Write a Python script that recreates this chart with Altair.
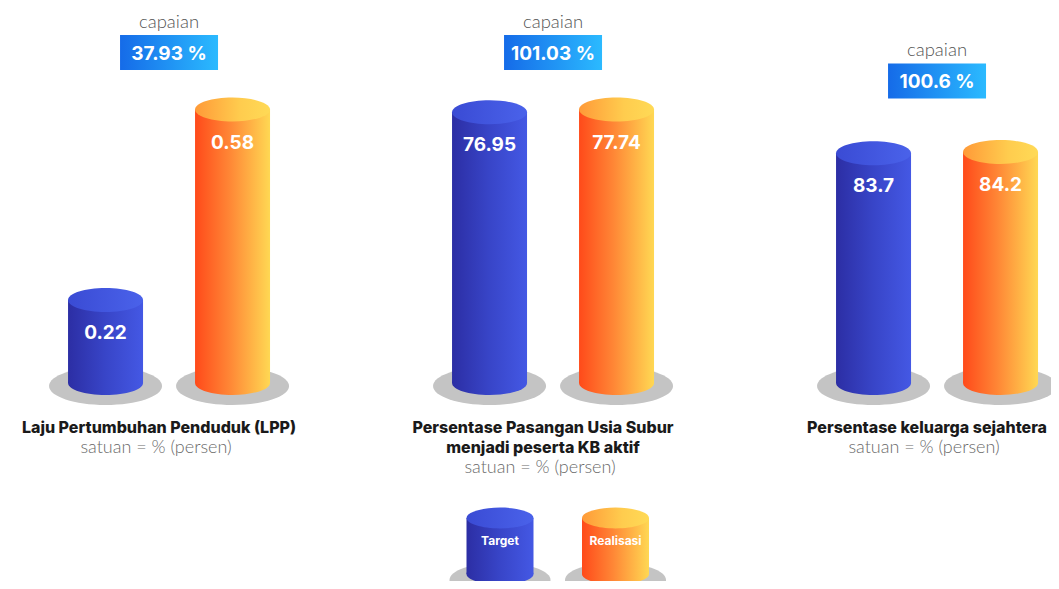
import altair as alt
import pandas as pd

# ---------------- data ----------------
series_names = ["Target", "Realisasi"]
indicator_titles = [
    "Laju Pertumbuhan Penduduk (LPP)",
    "Persentase Pasangan Usia Subur\nmenjadi peserta KB aktif",
    "Persentase keluarga sejahtera",
]
target_values = [0.22, 76.95, 83.7]
realisasi_values = [0.58, 77.74, 84.2]
target_labels = ["0.22", "76.95", "83.7"]
realisasi_labels = ["0.58", "77.74", "84.2"]
capaian_labels = ["37.93 %", "101.03 %", "100.6 %"]
capaian_word = "capaian"
unit_label = "satuan = % (persen)"

# ---------------- layout / style ----------------
PANEL_W, PANEL_H, GAP = 275, 573, 109
X_DOMAIN = [-0.768, -0.768 + PANEL_W / 127.0]
Y_BASE_PX = 375
Y_DOMAINS = [(0.063, 0.58), (0, 77.74), (0, 84.2)]
Y_TOP_PX = [101.5, 101.5, 144]
BOX_Y = [44.5, 44.5, 73]

FONT_BOLD = "Inter"
FONT_LIGHT = "Lato"


def ellipse(r):
    k = 0.5523
    return (f"M -1 0 C -1 {-k*r:.4f} {-k} {-r} 0 {-r} "
            f"C {k} {-r} 1 {-k*r:.4f} 1 0 "
            f"C 1 {k*r:.4f} {k} {r} 0 {r} "
            f"C {-k} {r} -1 {k*r:.4f} -1 0 Z")


RECT_SHAPE = "M -1 -0.357 L 1 -0.357 L 1 0.357 L -1 0.357 Z"


def lin(stops):
    return alt.Gradient(gradient="linear", x1=0, y1=0, x2=1, y2=0,
                        stops=[alt.GradientStop(color=c, offset=o) for o, c in stops])


BODY = {
    "Target": lin([(0, "#2c2ea4"), (0.5, "#3845c8"), (1, "#4458e4")]),
    "Realisasi": lin([(0, "#ff4a1a"), (0.45, "#ff8535"), (1, "#ffd853")]),
}
TOP = {
    "Target": lin([(0, "#3a4bd4"), (1, "#4a62ea")]),
    "Realisasi": lin([(0, "#ff9a38"), (0.6, "#ffcc4e"), (1, "#ffda56")]),
}
BOX = lin([(0, "#156be8"), (1, "#2bbaff")])
SHADOW = "#c4c4c4"


def panel(i):
    d0, d1 = Y_DOMAINS[i]
    clip = i == 2
    ysc = alt.Scale(domain=[d0, d1], range=[Y_BASE_PX, Y_TOP_PX[i]], nice=False, zero=False)
    xsc = alt.Scale(domain=X_DOMAIN, nice=False, zero=False, padding=0)
    xenc = alt.X("slot:Q", scale=xsc, axis=None)
    layers = []
    vals = [target_values, realisasi_values]
    labs = [target_labels, realisasi_labels]
    for s, name in enumerate(series_names):
        df = pd.DataFrame({"series": [name], "slot": [s],
                           "value": [vals[s][i]], "label": [labs[s][i]]})
        base = alt.Chart(df)
        ybase = alt.YDatum(d0, type="quantitative", scale=ysc, axis=None)
        yval = alt.Y("value:Q", scale=ysc, axis=None)
        layers.append(base.mark_point(shape=ellipse(0.336), size=113 ** 2, filled=True,
                                      fill=SHADOW, opacity=1, strokeWidth=0, yOffset=3,
                                      clip=clip)
                      .encode(x=xenc, y=ybase))
        layers.append(base.mark_point(shape=ellipse(0.32), size=75 ** 2, filled=True,
                                      fill=BODY[name], opacity=1, strokeWidth=0)
                      .encode(x=xenc, y=ybase))
        layers.append(base.mark_bar(size=75, fill=BODY[name], strokeWidth=0)
                      .encode(x=xenc, y=yval, y2=alt.Y2Datum(d0)))
        layers.append(base.mark_point(shape=ellipse(0.32), size=75 ** 2, filled=True,
                                      fill=TOP[name], opacity=1, strokeWidth=0)
                      .encode(x=xenc, y=yval))
        layers.append(base.mark_text(font=FONT_BOLD, fontSize=19, fontWeight="bold",
                                     color="white", dy=33, baseline="middle")
                      .encode(x=xenc, y=yval, text="label:N"))

    ann = alt.Chart(pd.DataFrame({"capaian": [capaian_labels[i]],
                                  "word": [capaian_word],
                                  "title": [indicator_titles[i]],
                                  "unit": [unit_label]}))
    xmid = alt.XDatum(0.5, type="quantitative", scale=xsc, axis=None)
    layers.append(ann.mark_point(shape=RECT_SHAPE, size=98 ** 2, filled=True, fill=BOX,
                                 opacity=1, strokeWidth=0)
                  .encode(x=xmid, y=alt.value(BOX_Y[i])))
    layers.append(ann.mark_text(font=FONT_BOLD, fontSize=19, fontWeight="bold",
                                color="white", baseline="middle", dy=1)
                  .encode(x=xmid, y=alt.value(BOX_Y[i]), text="capaian:N"))
    layers.append(ann.mark_text(font=FONT_LIGHT, fontSize=18.5, fontWeight=300,
                                color="#555555", baseline="middle")
                  .encode(x=xmid, y=alt.value(BOX_Y[i] - 31), text="word:N"))
    nlines = indicator_titles[i].count("\n") + 1
    layers.append(ann.mark_text(font=FONT_BOLD, fontSize=16, fontWeight=800,
                                color="#1a1a1a", baseline="middle", lineBreak="\n",
                                lineHeight=20, dx=-10)
                  .encode(x=xmid, y=alt.value(420), text="title:N"))
    layers.append(ann.mark_text(font=FONT_LIGHT, fontSize=18, fontWeight=300,
                                color="#6a6a6a", baseline="middle", dx=-13)
                  .encode(x=xmid, y=alt.value(420 + 20 * nlines), text="unit:N"))

    if i == 1:
        legend_cx = [108, 223.5]
        for s, name in enumerate(series_names):
            cx = legend_cx[s]
            lg = alt.Chart(pd.DataFrame({"series": [name]}))
            layers.append(lg.mark_point(shape=ellipse(0.34), size=101 ** 2, filled=True,
                                        fill=SHADOW, opacity=1, strokeWidth=0, clip=True)
                          .encode(x=alt.value(cx), y=alt.value(572)))
            layers.append(lg.mark_point(shape=ellipse(0.31), size=67 ** 2, filled=True,
                                        fill=BODY[name], opacity=1, strokeWidth=0, clip=True)
                          .encode(x=alt.value(cx), y=alt.value(566)))
            layers.append(lg.mark_rect(fill=BODY[name], strokeWidth=0)
                          .encode(x=alt.value(cx - 33.5), x2=alt.value(cx + 33.5),
                                  y=alt.value(510), y2=alt.value(566)))
            layers.append(lg.mark_point(shape=ellipse(0.31), size=67 ** 2, filled=True,
                                        fill=TOP[name], opacity=1, strokeWidth=0)
                          .encode(x=alt.value(cx), y=alt.value(510)))
            layers.append(lg.mark_text(font=FONT_BOLD, fontSize=12, fontWeight="bold",
                                       color="white", baseline="middle")
                          .encode(x=alt.value(cx), y=alt.value(533), text="series:N"))

    return alt.layer(*layers).properties(width=PANEL_W, height=PANEL_H)


chart = (
    alt.hconcat(panel(0), panel(1), panel(2), spacing=GAP, bounds="flush")
    .properties(padding=0, background="white")
    .configure_view(stroke=None)
)

chart.save("out.html", embed_options={"renderer": "svg", "actions": False})
